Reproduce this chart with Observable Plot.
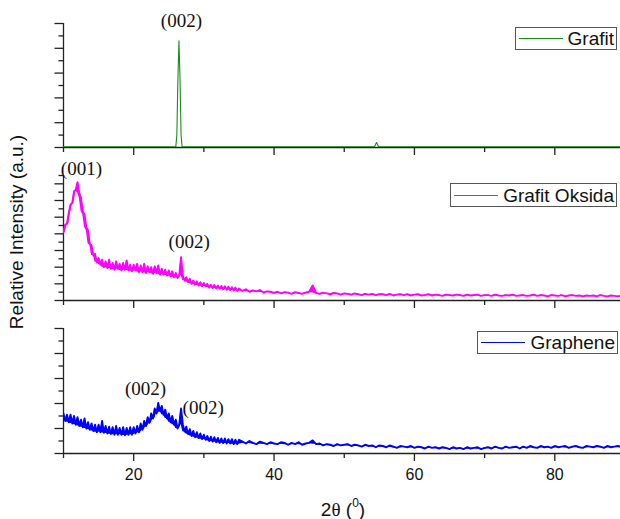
<!DOCTYPE html>
<html>
<head>
<meta charset="utf-8">
<script src="https://cdn.jsdelivr.net/npm/d3@7"></script>
<script src="https://cdn.jsdelivr.net/npm/@observablehq/plot@0.6"></script>
<style>
html, body { margin: 0; padding: 0; background: #fff; overflow: hidden; }
#chart { position: relative; width: 620px; height: 519px; overflow: hidden;
  font-family: "Liberation Sans", Arial, sans-serif; color: #222; }
#chart svg { position: absolute; left: 0; }
.legend { position: absolute; border: 1px solid #555; background: #fff; display: flex;
  align-items: center; box-sizing: border-box; padding: 0 2px 0 3px; font-size: 19px;
  color: #111; white-space: nowrap; line-height: 1; }
.legend .sw { display: inline-block; width: 44px; border-top: 1.5px solid; margin-right: 5px; }
#ylab { position: absolute; left: 17px; top: 232px; transform: translate(-50%, -50%) rotate(-90deg);
  font-size: 19px; white-space: nowrap; color: #111; }
#xlab { position: absolute; left: 343px; top: 508px; transform: translate(-50%, -50%);
  font-size: 19px; white-space: nowrap; color: #111; line-height: 1; }
#xlab .th { font-family: "Liberation Serif", "Times New Roman", serif; }
#xlab sup { font-size: 12px; vertical-align: 9px; }
</style>
</head>
<body>
<div id="chart"></div>
<script>
// ---------- axes ----------
const xDomain = [10, 89.36];
const xMajorTicks = [20, 40, 60, 80];
const xMinorTicks = [10, 30, 50, 70];

const grafitYDomain = [0, 100];
const grafitYMajor = [0, 20, 40, 60, 80, 100];
const grafitYMinor = [10, 30, 50, 70, 90];

const oksidaYDomain = [0, 150];
const oksidaYMajor = [0, 20, 40, 60, 80, 100, 120, 140];
const oksidaYMinor = [10, 30, 50, 70, 90, 110, 130, 150];

const grapheneYDomain = [0, 100];
const grapheneYMajor = [0, 20, 40, 60, 80, 100];
const grapheneYMinor = [10, 30, 50, 70, 90];

// ---------- series ----------
const seriesNames = ["Grafit", "Grafit Oksida", "Graphene"];
const seriesColors = ["#1a8c1a", "#ff00ff", "#0000ff"];

// Grafit (smooth pattern)
const grafitTheta = [10, 26.0, 26.15, 26.3, 26.45, 26.6, 26.75, 26.9, 54.3, 54.6, 54.9, 89.5];
const grafitI     = [0.6, 0.6, 10, 55, 86, 55, 10, 0.6, 0.6, 4, 0.6, 0.6];

// sampling grid of the noisy patterns (2θ)
const thetaFine = d3.range(10, 35.001, 0.25);   // 10.00 ... 35.00
const thetaCoarse = d3.range(35.5, 89.501, 0.5); // 35.5 ... 89.5

// Grafit Oksida intensities
const oksidaFine = [
  82, 91, 92, 105,
  115, 117, 131, 133,
  142, 129, 123, 107,
  103, 88, 84, 68,
  66, 54, 56, 46,
  51, 43, 49, 40,
  47, 39, 49, 38,
  45, 37, 47, 38,
  44, 36, 45, 37,
  48, 36, 43, 35,
  43, 36, 44, 34,
  42, 34, 44, 33,
  41, 34, 40, 32,
  41, 33, 42, 31,
  38, 31, 37, 30,
  36, 29, 35, 28,
  33, 27, 31, 52,
  30, 24, 28, 22,
  26, 20, 24, 19,
  23, 18, 22, 17,
  21, 17, 20, 15.5,
  19, 15, 18.5, 14.5,
  18, 14, 17.5, 13.5,
  17, 13, 16.5, 12.5,
  16, 12, 15.5, 11.5,
  14.5
];
const oksidaCoarse = [
  11.5, 13.5, 10.5, 12, 11, 12.5, 9.5, 11, 10.5, 9,
  10.5, 8.5, 10, 9.5, 8, 10, 9, 8, 9.5, 10.5,
  18, 9, 8, 9.5, 8.5, 7.5, 9, 8.5, 7, 8.5,
  8, 7, 8.5, 7.5, 6.5, 8, 7, 8, 6.5, 7.5,
  7.5, 6.5, 8, 6, 7, 7.5, 6.5, 7.5, 6, 7,
  7.5, 6, 6.5, 7.5, 6, 7, 6.5, 5.5, 7, 6.5,
  6, 7, 6.5, 5.5, 7, 6, 6.5, 7, 5.5, 6.5,
  6.5, 5.5, 7, 6, 5.5, 6.5, 6, 7, 5.5, 6,
  6.5, 5.5, 6, 7, 5.5, 6.5, 6, 5, 6.5, 6,
  5.5, 6.5, 5, 6, 6.5, 5.5, 6, 5, 6, 5.5,
  6, 5, 6.5, 5.5, 5, 6, 5.5, 5, 6
];

// Graphene intensities
const grapheneFine = [
  32, 26, 31, 25,
  31, 24, 30, 23,
  29, 22, 27, 21,
  28, 20, 25, 19,
  24, 18, 23, 17,
  23, 17, 26, 16.5,
  22, 16, 21.5, 15.5,
  21, 15, 22, 15,
  20.5, 15, 21, 14.5,
  20.5, 15, 21, 15,
  21, 16, 22, 17,
  24, 19, 26, 22,
  29, 24.5, 32, 28,
  36, 32, 40.5, 34,
  38, 31, 35, 28,
  32, 25, 30, 23,
  27, 20, 23.5, 36,
  23.5, 17.5, 21.5, 15.5,
  19.5, 14, 18, 13,
  17, 12.3, 16, 11.5,
  15, 11, 14, 10,
  13.5, 9.5, 13, 9,
  12.5, 8.5, 12, 8.3,
  12, 8, 11.5, 8,
  11.5, 7.5, 11, 7.5,
  11
];
const grapheneCoarse = [
  9.5, 8, 10, 8.5, 7.5, 9.5, 8.5, 7.5, 9, 8,
  7.5, 9, 8.5, 7, 8.5, 7.5, 9, 7, 8, 8.5,
  10.5, 7.5, 8, 6.5, 7.5, 7, 6, 7.5, 6.5, 7,
  7.5, 6, 7, 6.5, 5.5, 7, 6, 6.5, 5, 6.5,
  6, 5, 6.5, 5.5, 4.5, 6, 5.5, 5, 6, 4.5,
  5.5, 5, 4, 5.5, 4.5, 5, 4, 5, 4.5, 3.5,
  5, 4, 4.5, 3.5, 5, 4, 4.5, 5, 3.5, 4.5,
  5, 4, 5.5, 4.5, 4, 5.5, 4.5, 5, 5.5, 4,
  5.5, 4.5, 6, 5, 4.5, 6, 5, 5.5, 4.5, 6,
  5, 5.5, 6, 4.5, 5.5, 6, 5, 4.5, 6, 5.5,
  5, 6, 5.5, 4.5, 6, 5, 5.5, 6, 5
];

// ---------- peak annotations ----------
const grafitLabelTheta = [26.8];
const grafitLabelI = [102];
const grafitLabelText = ["(002)"];

const oksidaLabelTheta = [12.55, 27.9];
const oksidaLabelI = [158, 70];
const oksidaLabelText = ["(001)", "(002)"];

const grapheneLabelTheta = [21.7, 29.9];
const grapheneLabelI = [51.5, 36.5];
const grapheneLabelText = ["(002)", "(002)"];

// ---------- build ----------
const zipXY = (xs, ys) => xs.map((t, i) => ({t, v: ys[i]}));
const zipLabels = (xs, ys, ts) => xs.map((t, i) => ({t, v: ys[i], text: ts[i]}));
// fill between each sample and the local minimum of its neighbours (noise band)
const noiseBand = (arr) => arr.map((d, i) => ({
  t: d.t, v: d.v,
  lo: d3.min(arr.slice(Math.max(0, i - 1), i + 2), e => e.v)
}));

const thetaAll = thetaFine.concat(thetaCoarse);
const grafitData = zipXY(grafitTheta, grafitI);
const oksidaData = zipXY(thetaAll, oksidaFine.concat(oksidaCoarse));
const grapheneData = zipXY(thetaAll, grapheneFine.concat(grapheneCoarse));

const chart = document.getElementById("chart");
const axisColor = "#222";

function panel({data, color, noisy, yDomain, yMajor, yMinor, labels, top, height, mt, mb, showLabels}) {
  const blank = () => "";
  const marks = [
    Plot.axisY(yMajor, {tickSize: 8.5, tickFormat: blank, label: null, strokeWidth: 1.3}),
    Plot.axisY(yMinor, {tickSize: 4.5, tickFormat: blank, label: null, strokeWidth: 1.3}),
    Plot.axisX(xMajorTicks, {tickSize: 8, tickPadding: 7, label: null, strokeWidth: 1.3,
      tickFormat: showLabels ? (d => String(d)) : blank, fill: "#111"}),
    Plot.axisX(xMinorTicks, {tickSize: 5, tickFormat: blank, label: null, strokeWidth: 1.3}),
    Plot.ruleX([xDomain[0]], {stroke: axisColor, strokeWidth: 1.3}),
    Plot.ruleY([yDomain[0]], {stroke: axisColor, strokeWidth: 1.3})
  ];
  if (noisy) {
    marks.push(Plot.areaY(noiseBand(data), {x: "t", y1: "lo", y2: "v", fill: color, clip: true}));
  }
  marks.push(
    Plot.line(data, {x: "t", y: "v", stroke: color, strokeWidth: noisy ? 1.9 : 1.1, clip: true}),
    Plot.text(labels, {x: "t", y: "v", text: "text", fontFamily: "'Liberation Serif', 'Times New Roman', serif",
      fontSize: 19, fill: "#111"})
  );
  const svg = Plot.plot({
    width: 620,
    height,
    marginLeft: 63,
    marginRight: 0,
    marginTop: mt,
    marginBottom: mb,
    style: {background: "transparent", overflow: "visible", color: axisColor,
            fontFamily: "'Liberation Sans', Arial, sans-serif", fontSize: "16px"},
    x: {domain: xDomain, label: null},
    y: {domain: yDomain, label: null},
    marks
  });
  svg.style.top = top + "px";
  chart.appendChild(svg);
}

panel({data: grafitData, color: seriesColors[0], noisy: false, yDomain: grafitYDomain, yMajor: grafitYMajor,
  yMinor: grafitYMinor, labels: zipLabels(grafitLabelTheta, grafitLabelI, grafitLabelText),
  top: 0, height: 160, mt: 23, mb: 13, showLabels: false});
panel({data: oksidaData, color: seriesColors[1], noisy: true, yDomain: oksidaYDomain, yMajor: oksidaYMajor,
  yMinor: oksidaYMinor, labels: zipLabels(oksidaLabelTheta, oksidaLabelI, oksidaLabelText),
  top: 160, height: 152, mt: 15, mb: 12, showLabels: false});
panel({data: grapheneData, color: seriesColors[2], noisy: true, yDomain: grapheneYDomain, yMajor: grapheneYMajor,
  yMinor: grapheneYMinor, labels: zipLabels(grapheneLabelTheta, grapheneLabelI, grapheneLabelText),
  top: 312, height: 207, mt: 16, mb: 66, showLabels: true});

// legends
const legendPos = [{top: 27, right: 3, h: 23}, {top: 183, right: 3, h: 24}, {top: 331, right: 2, h: 23}];
seriesNames.forEach((name, i) => {
  const d = document.createElement("div");
  d.className = "legend";
  d.style.top = legendPos[i].top + "px";
  d.style.right = legendPos[i].right + "px";
  d.style.height = legendPos[i].h + "px";
  const sw = document.createElement("span");
  sw.className = "sw";
  sw.style.borderTopColor = seriesColors[i];
  const tx = document.createElement("span");
  tx.textContent = name;
  d.appendChild(sw);
  d.appendChild(tx);
  chart.appendChild(d);
});

// axis titles
const yl = document.createElement("div");
yl.id = "ylab";
yl.textContent = "Relative Intensity (a.u.)";
chart.appendChild(yl);
const xl = document.createElement("div");
xl.id = "xlab";
xl.innerHTML = '2<span class="th">θ</span> (<sup>0</sup>)';
chart.appendChild(xl);
</script>
</body>
</html>
